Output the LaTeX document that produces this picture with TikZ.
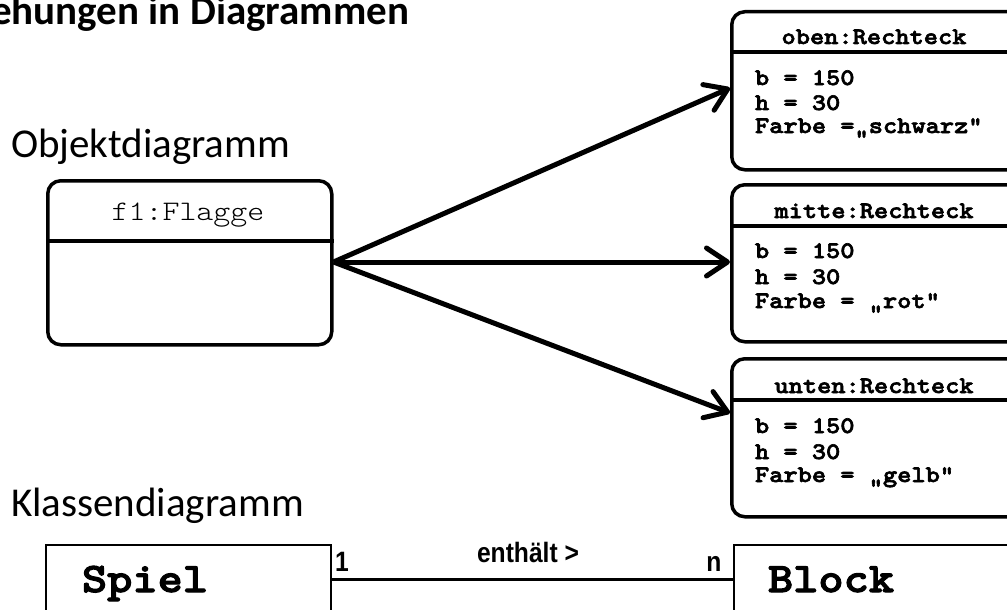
\documentclass[tikz,border=0pt]{standalone}
\usepackage{fontspec}
\setmainfont{Carlito}
\newfontfamily\courlt[FakeStretch=1.143]{lmmonolt10-regular.otf}
\newfontfamily\courbf[FakeStretch=1.143, FakeBold=2.6]{lmmonolt10-bold.otf}
\newfontfamily\arialn[FakeStretch=0.88]{Liberation Sans}
\usetikzlibrary{arrows.meta}
\tikzset{
  objbox/.style={draw, line width=3.5pt, rounded corners=13pt, anchor=north west},
  clsbox/.style={draw, line width=2pt, anchor=north west},
  divider/.style={line width=3.5pt},
  arr/.style={line width=5pt, -{Straight Barb[length=21pt, width=28pt, round]}},
  assoc/.style={line width=3pt},
  txt/.style={inner sep=0pt, outer sep=0pt},
  heading/.style={txt, anchor=base west, font=\fontsize{41}{41}\selectfont},
  objname/.style={txt, anchor=base, font=\courbf\fontsize{23.7}{24}\selectfont},
  attr/.style={txt, anchor=base west, font=\courbf\fontsize{23.7}{24}\selectfont},
  clsname/.style={txt, anchor=base west, font=\courbf\fontsize{42}{42}\selectfont},
  assoclabel/.style={txt, anchor=base, font=\arialn\bfseries\fontsize{28}{28}\selectfont}
}
\begin{document}
\begin{tikzpicture}[x=1pt,y=-1pt]
\useasboundingbox (0,0) rectangle (1007,610);
\clip (0,0) rectangle (1007,610);

% title
\node[txt, anchor=base east, font=\bfseries\fontsize{41}{41}\selectfont] (title) at (409,25) {Beziehungen in Diagrammen};

% headings
\node[heading] (hobj) at (11,157) {Objektdiagramm};
\node[heading] (hcls) at (11,516) {Klassendiagramm};

% object f1
\node[objbox, minimum width=284pt, minimum height=164pt] (f1) at (46,179) {};
\draw[divider] (f1.west |- 0,241) -- (f1.east |- 0,241);
\node[txt, anchor=base, font=\courlt\fontsize{28.3}{28}\selectfont] (f1name) at (188,220) {f1:Flagge};

% object boxes
\node[objbox, minimum width=300pt, minimum height=158pt] (oben) at (730,10) {};
\draw[divider] (oben.west |- 0,52) -- (oben.east |- 0,52);
\node[objname] (obenname) at (874,44) {oben:Rechteck};
\node[attr] (oben1) at (755,85) {b = 150};
\node[attr] (oben2) at (755,110) {h = 30};
\node[attr] (oben3) at (755,133) {Farbe =„schwarz“};

\node[objbox, minimum width=300pt, minimum height=157pt] (mitte) at (730,183) {};
\draw[divider] (mitte.west |- 0,226) -- (mitte.east |- 0,226);
\node[objname] (mittename) at (874,218) {mitte:Rechteck};
\node[attr] (mitte1) at (755,258) {b = 150};
\node[attr] (mitte2) at (755,284) {h = 30};
\node[attr] (mitte3) at (755,308) {Farbe = „rot“};

\node[objbox, minimum width=300pt, minimum height=158pt] (unten) at (730,357) {};
\draw[divider] (unten.west |- 0,400) -- (unten.east |- 0,400);
\node[objname] (untenname) at (874,393) {unten:Rechteck};
\node[attr] (unten1) at (755,433) {b = 150};
\node[attr] (unten2) at (755,459) {h = 30};
\node[attr] (unten3) at (755,482) {Farbe = „gelb“};

% links
\coordinate (src) at (f1.east |- 0,262);
\draw[arr] (src) -- (oben.west |- 0,88);
\draw[arr] (src) -- (mitte.west |- src);
\draw[arr] (src) -- (unten.west |- 0,413);

% class diagram
\node[clsbox, minimum width=285pt, minimum height=100pt] (spiel) at (45,544) {};
\node[clsbox, minimum width=300pt, minimum height=100pt] (block) at (733,544) {};
\node[clsname] (spielname) at (82,592) {Spiel};
\node[clsname] (blockname) at (768,592) {Block};
\draw[assoc] (spiel.east |- 0,579) -- (block.west |- 0,579);
\node[assoclabel] (m1) at (342,571) {1};
\node[assoclabel] (mn) at (714,571) {n};
\node[assoclabel] (rel) at (528,562) {enthält >};
\end{tikzpicture}
\end{document}
